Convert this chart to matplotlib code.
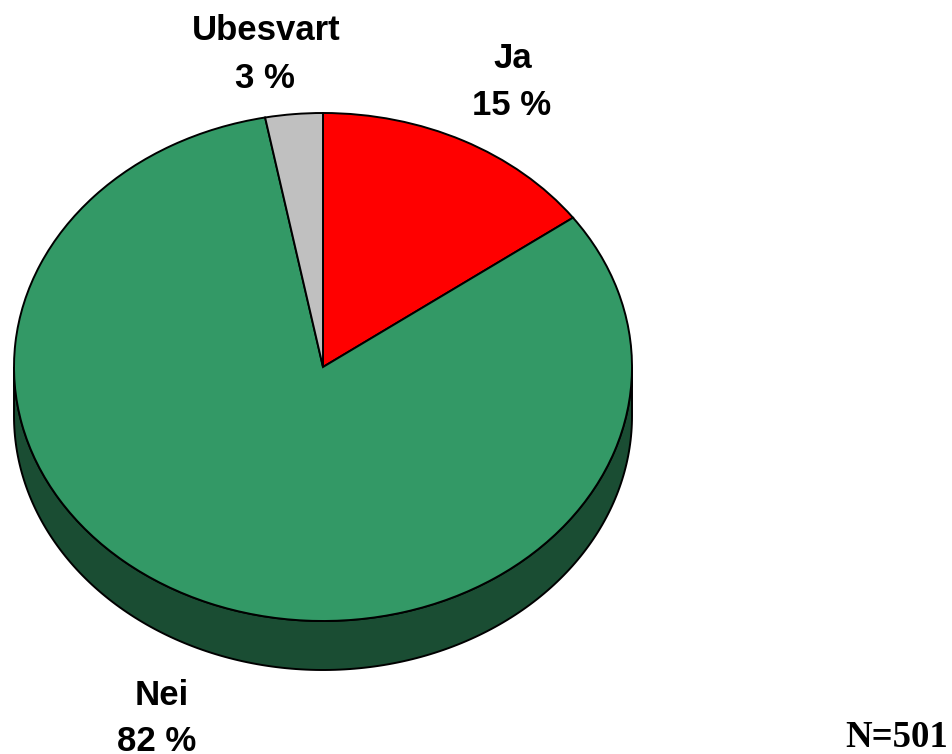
import matplotlib.pyplot as plt
import numpy as np

# Data
labels = ['Ja', 'Nei', 'Ubesvart']
values = [15, 82, 3]
pct_labels = ['15 %', '82 %', '3 %']
colors = ['#FF0000', '#339966', '#C0C0C0']
side_color = '#1A4D33'
n_text = 'N=501'

W, H = 952, 754
fig = plt.figure(figsize=(W / 100, H / 100), dpi=100)
ax = fig.add_axes([0, 0, 1, 1])

# ellipse geometry in pixels (top face)
cx, cy = 323, 367
rx, ry = 309, 254
depth = 49 / ry

# Side of the pie (front half only, all Nei)
t = np.linspace(np.pi, 2 * np.pi, 200)
xs = np.concatenate([np.cos(t), np.cos(t[::-1])])
ys = np.concatenate([np.sin(t) - depth, np.sin(t[::-1])])
ax.fill(xs, ys, facecolor=side_color, edgecolor='black', linewidth=1.4, zorder=1)

# Top face
wedges, _ = ax.pie(values, colors=colors, startangle=90, counterclock=False,
                   radius=1, center=(0, 0),
                   wedgeprops=dict(edgecolor='black', linewidth=1.4))
for w in wedges:
    w.set_zorder(2)

ax.set_aspect('auto')
ax.set_xlim(-cx / rx, (W - cx) / rx)
ax.set_ylim(-(H - cy) / ry, cy / ry)
ax.axis('off')

# Labels (pixel positions from top-left)
lab_pos = {'Ja': (513, 68), 'Ubesvart': (266, 40), 'Nei': (162, 705)}
pct_pos = {'Ja': (512, 115), 'Ubesvart': (265, 88), 'Nei': (157, 751)}
for lab, pct in zip(labels, pct_labels):
    x, y = lab_pos[lab]
    fig.text(x / W, 1 - y / H, lab, ha='center', va='baseline',
             fontsize=25, fontweight='bold', family='Liberation Sans')
    x, y = pct_pos[lab]
    fig.text(x / W, 1 - y / H, pct, ha='center', va='baseline',
             fontsize=25, fontweight='bold', family='Liberation Sans')

fig.text(948 / W, 1 - 747 / H, n_text, ha='right', va='baseline',
         fontsize=26.5, fontweight='bold', family='Liberation Serif')

fig.savefig('out.png', dpi=100, facecolor='white')
